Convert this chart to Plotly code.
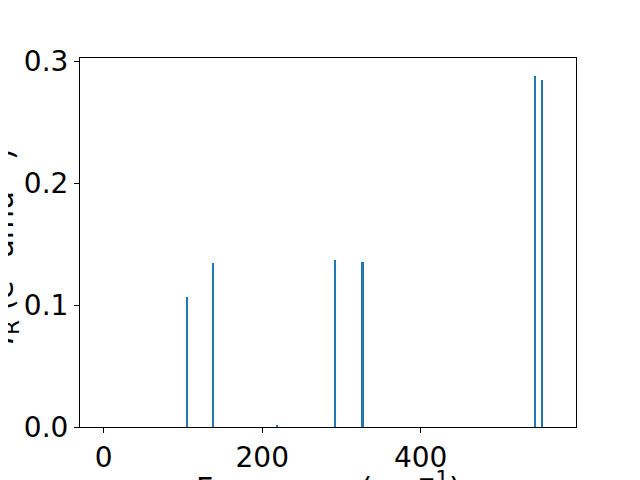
import plotly.graph_objects as go

# Data
frequencies = [105.4, 138.2, 218.6, 291.7, 326.7, 545.0, 553.8]
intensities = [0.1069, 0.1347, 0.0012, 0.1371, 0.1355, 0.2884, 0.2851]
bar_widths = [1.0, 1.0, 2.2, 2.2, 2.2, 2.2, 2.2]

x_ticks = [0, 200, 400]
y_ticks = [0.0, 0.1, 0.2, 0.3]
y_tick_text = ["0.0", "0.1", "0.2", "0.3"]

FONT = "DejaVu Sans"
FS = 28
TITLE_FS = 30

fig = go.Figure(
    go.Bar(
        x=frequencies,
        y=intensities,
        width=bar_widths,
        marker=dict(color="#1f77b4", line=dict(width=0)),
    )
)

# The page body adds an 8px offset; margins compensate for it.
fig.update_layout(
    width=640,
    height=480,
    margin=dict(l=72, r=72, t=50, b=61, autoexpand=False),
    paper_bgcolor="white",
    plot_bgcolor="white",
    showlegend=False,
    font=dict(family=FONT, size=FS, color="black"),
    bargap=0,
)

axis_style = dict(
    ticks="outside",
    ticklen=5,
    tickwidth=1,
    tickcolor="black",
    showgrid=False,
    zeroline=False,
    showline=True,
    linecolor="black",
    linewidth=1,
    mirror=True,
    tickfont=dict(family=FONT, size=FS, color="black"),
)

fig.update_xaxes(range=[-30, 596], tickvals=x_ticks, **axis_style)
fig.update_yaxes(range=[0, 0.3028], tickvals=y_ticks, ticktext=y_tick_text, **axis_style)

# Axis titles (partly cut off by the canvas, as in the reference)
fig.add_annotation(
    text="<i>I</i><sub>R</sub> (e<sup>2</sup> amu<sup>−1</sup>)",
    xref="paper", yref="paper",
    x=-0.109, y=0.49,
    xanchor="right", yanchor="middle",
    textangle=-90,
    showarrow=False,
    font=dict(family=FONT, size=TITLE_FS, color="black"),
)
fig.add_annotation(
    text="Frequency (cm<sup>−1</sup>)",
    xref="paper", yref="paper",
    x=0.5, y=-0.103,
    xanchor="center", yanchor="top",
    showarrow=False,
    font=dict(family=FONT, size=TITLE_FS, color="black"),
)

fig.write_html("out.html")
